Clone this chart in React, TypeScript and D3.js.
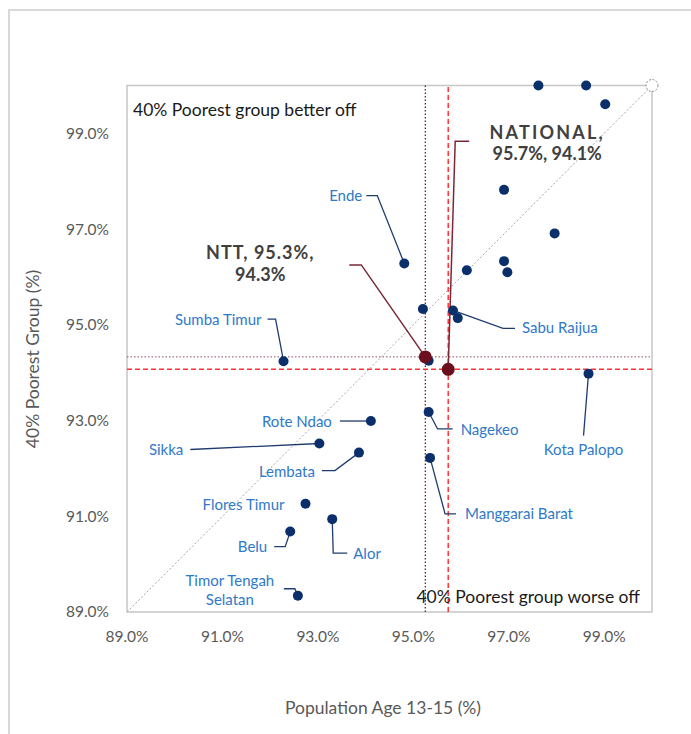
import React from "react";
import * as d3 from "d3";

// ---- data ----
const unnamedX = [97.62, 98.62, 99.02, 96.9, 97.96, 96.9, 96.97, 96.12, 95.2, 95.32, 95.93];
const unnamedY = [100.0, 100.0, 99.61, 97.82, 96.91, 96.33, 96.1, 96.14, 95.33, 94.25, 95.14];

const districtNames = [
  "Ende", "Sumba Timur", "Sabu Raijua", "Kota Palopo", "Nagekeo", "Manggarai Barat",
  "Rote Ndao", "Sikka", "Lembata", "Flores Timur", "Alor", "Belu", "Timor Tengah Selatan",
];
const districtX = [94.81, 92.28, 95.83, 98.67, 95.32, 95.35, 94.11, 93.03, 93.86, 92.74, 93.3, 92.42, 92.58];
const districtY = [96.28, 94.24, 95.3, 93.98, 93.18, 92.22, 92.99, 92.52, 92.33, 91.26, 90.94, 90.68, 89.34];

const nttPoint = { x: 95.25, y: 94.33 };
const nationalPoint = { x: 95.73, y: 94.07 };
const nttLabel = ["NTT, 95.3%,", "94.3%"];
const nationalLabel = ["NATIONAL,", "95.7%, 94.1%"];

const xTicks = [89, 91, 93, 95, 97, 99];
const yTicks = [89, 91, 93, 95, 97, 99];
const axisDomain = [89, 100];

const xTitle = "Population Age 13-15 (%)";
const yTitle = "40% Poorest Group (%)";
const betterOff = "40% Poorest group better off";
const worseOff = "40% Poorest group worse off";

// ---- layout (pixel offsets relative to each dot) ----
type Lay = { lines: string[]; dx: number; dy: number; anchor: string; path: number[][] };
const layout: Record<string, Lay> = {
  "Ende": { lines: ["Ende"], dx: -42, dy: -63, anchor: "end", path: [[-38, -68], [-27, -68], [0, 0]] },
  "Sumba Timur": { lines: ["Sumba Timur"], dx: -22, dy: -36, anchor: "end", path: [[-16, -42], [-8, -42], [0, 0]] },
  "Sabu Raijua": { lines: ["Sabu Raijua"], dx: 69, dy: 23, anchor: "start", path: [[0, 0], [50, 18], [62, 18]] },
  "Kota Palopo": { lines: ["Kota Palopo"], dx: -5, dy: 81, anchor: "middle", path: [[0, 0], [-5, 62]] },
  "Nagekeo": { lines: ["Nagekeo"], dx: 32, dy: 23, anchor: "start", path: [[0, 0], [9, 17], [24, 17]] },
  "Manggarai Barat": { lines: ["Manggarai Barat"], dx: 35, dy: 61, anchor: "start", path: [[0, 0], [15, 56], [26, 56]] },
  "Rote Ndao": { lines: ["Rote Ndao"], dx: -39, dy: 6, anchor: "end", path: [[-31, 0], [0, 0]] },
  "Sikka": { lines: ["Sikka"], dx: -136, dy: 11, anchor: "end", path: [[-129, 6], [0, 0]] },
  "Lembata": { lines: ["Lembata"], dx: -44, dy: 24, anchor: "end", path: [[-37, 18], [-24, 18], [0, 0]] },
  "Flores Timur": { lines: ["Flores Timur"], dx: -21, dy: 6, anchor: "end", path: [] },
  "Alor": { lines: ["Alor"], dx: 21, dy: 40, anchor: "start", path: [[0, 0], [1, 34], [15, 34]] },
  "Belu": { lines: ["Belu"], dx: -23, dy: 20, anchor: "end", path: [[-16, 15], [-5, 15], [0, 0]] },
  "Timor Tengah Selatan": { lines: ["Timor Tengah", "Selatan"], dx: -68, dy: -10, anchor: "middle", path: [[-14, -7], [-3, -7], [0, 0]] },
};

const FONT = "Lato, 'Open Sans', sans-serif";
const BLUE_TEXT = "#3079C9";
const DOT = "#0A2F6B";
const LEADER = "#1F3C6E";
const DARKRED = "#6B0F1E";
const RED_LEADER = "#7A2838";

export default function App() {
  const x = d3.scaleLinear().domain(axisDomain).range([127, 652]);
  const y = d3.scaleLinear().domain(axisDomain).range([612, 85.5]);
  const line = d3.line<number[]>().x((d) => d[0]).y((d) => d[1]);

  const [x0, x1] = x.range();
  const [y0, y1] = y.range();

  const nx = x(nttPoint.x), ny = y(nttPoint.y);
  const gx = x(nationalPoint.x), gy = y(nationalPoint.y);

  return (
    <svg width={691} height={734} style={{ position: "absolute", left: 0, top: 0, display: "block", background: "#fff" }} fontFamily={FONT}>
      {/* outer frame */}
      <path d="M9,734 L9,10 L691,10" fill="none" stroke="#D9D9D9" strokeWidth={2} />

      {/* plot border */}
      <rect x={x0} y={y1} width={x1 - x0} height={y0 - y1} fill="none" stroke="#C6C6C6" strokeWidth={1.5} />

      {/* diagonal */}
      <line x1={x(axisDomain[0])} y1={y(axisDomain[0])} x2={x(axisDomain[1])} y2={y(axisDomain[1])} stroke="#A6A6A6" strokeWidth={1} strokeDasharray="2,2" />

      {/* reference lines */}
      <line x1={x0} x2={x1} y1={ny} y2={ny} stroke="#8A4A58" strokeWidth={1} strokeDasharray="1.5,2" />
      <line x1={nx} x2={nx} y1={y0} y2={y1} stroke="#5A1020" strokeWidth={1.2} strokeDasharray="1.5,2" />
      <line x1={x0} x2={x1} y1={gy} y2={gy} stroke="#FF3333" strokeWidth={1.5} strokeDasharray="5,3" />
      <line x1={gx} x2={gx} y1={y0} y2={y1} stroke="#FF3333" strokeWidth={1.5} strokeDasharray="5,3" />

      {/* axis ticks labels */}
      {yTicks.map((t) => (
        <text key={"y" + t} x={109} y={y(t)} dy="0.35em" textAnchor="end" fontSize={15.5} fill="#595959">
          {d3.format(".1f")(t) + "%"}
        </text>
      ))}
      {xTicks.map((t) => (
        <text key={"x" + t} x={x(t)} y={642} textAnchor="middle" fontSize={15.5} fill="#595959">
          {d3.format(".1f")(t) + "%"}
        </text>
      ))}
      <text x={383} y={714} textAnchor="middle" fontSize={17.5} fill="#595959">{xTitle}</text>
      <text transform={`translate(39,359) rotate(-90)`} textAnchor="middle" fontSize={17.5} fill="#595959">{yTitle}</text>

      {/* quadrant annotations */}
      <text x={133} y={116} fontSize={17.5} fill="#1A1A1A">{betterOff}</text>
      <text x={640} y={603} textAnchor="end" fontSize={17.5} fill="#1A1A1A">{worseOff}</text>

      {/* leader lines */}
      {districtNames.map((n, i) => {
        const L = layout[n];
        if (!L || L.path.length < 2) return null;
        const px = x(districtX[i]), py = y(districtY[i]);
        return <path key={"l" + n} d={line(L.path.map((p) => [px + p[0], py + p[1]])) || ""} fill="none" stroke={LEADER} strokeWidth={1.3} />;
      })}
      <path d={line([[nx - 76, ny - 92], [nx - 64, ny - 92], [nx, ny]]) || ""} fill="none" stroke={RED_LEADER} strokeWidth={1.5} />
      <path d={line([[gx + 21, gy - 228], [gx + 7, gy - 228], [gx, gy]]) || ""} fill="none" stroke={RED_LEADER} strokeWidth={1.5} />

      {/* (100,100) marker */}
      <circle cx={x(100)} cy={y(100)} r={6} fill="#fff" stroke="#8C8C8C" strokeWidth={1} strokeDasharray="2,1.5" />

      {/* dots */}
      {unnamedX.map((v, i) => (
        <circle key={"u" + i} cx={x(v)} cy={y(unnamedY[i])} r={5} fill={DOT} />
      ))}
      {districtNames.map((n, i) => (
        <circle key={"d" + n} cx={x(districtX[i])} cy={y(districtY[i])} r={5} fill={DOT} />
      ))}
      <circle cx={nx} cy={ny} r={6.5} fill={DARKRED} />
      <circle cx={gx} cy={gy} r={6.5} fill={DARKRED} />

      {/* district labels */}
      {districtNames.map((n, i) => {
        const L = layout[n];
        const px = x(districtX[i]), py = y(districtY[i]);
        return (
          <text key={"t" + n} x={px + L.dx} y={py + L.dy} textAnchor={L.anchor as any} fontSize={15} fill={BLUE_TEXT}>
            {L.lines.map((s, k) => (
              <tspan key={k} x={px + L.dx} dy={k === 0 ? 0 : 19}>{s}</tspan>
            ))}
          </text>
        );
      })}

      {/* NTT & National labels */}
      <text textAnchor="middle" fontSize={18} fontWeight="bold" fill="#404040">
        {nttLabel.map((s, k) => (
          <tspan key={k} x={nx - 165} y={ny - 98 + k * 22} letterSpacing={k === 0 ? 1 : 0}>{s}</tspan>
        ))}
      </text>
      <text textAnchor="middle" fontSize={18} fontWeight="bold" fill="#404040">
        {nationalLabel.map((s, k) => (
          <tspan key={k} x={gx + 99} y={gy - 230 + k * 21} letterSpacing={k === 0 ? 2.2 : 0}>{s}</tspan>
        ))}
      </text>
    </svg>
  );
}
